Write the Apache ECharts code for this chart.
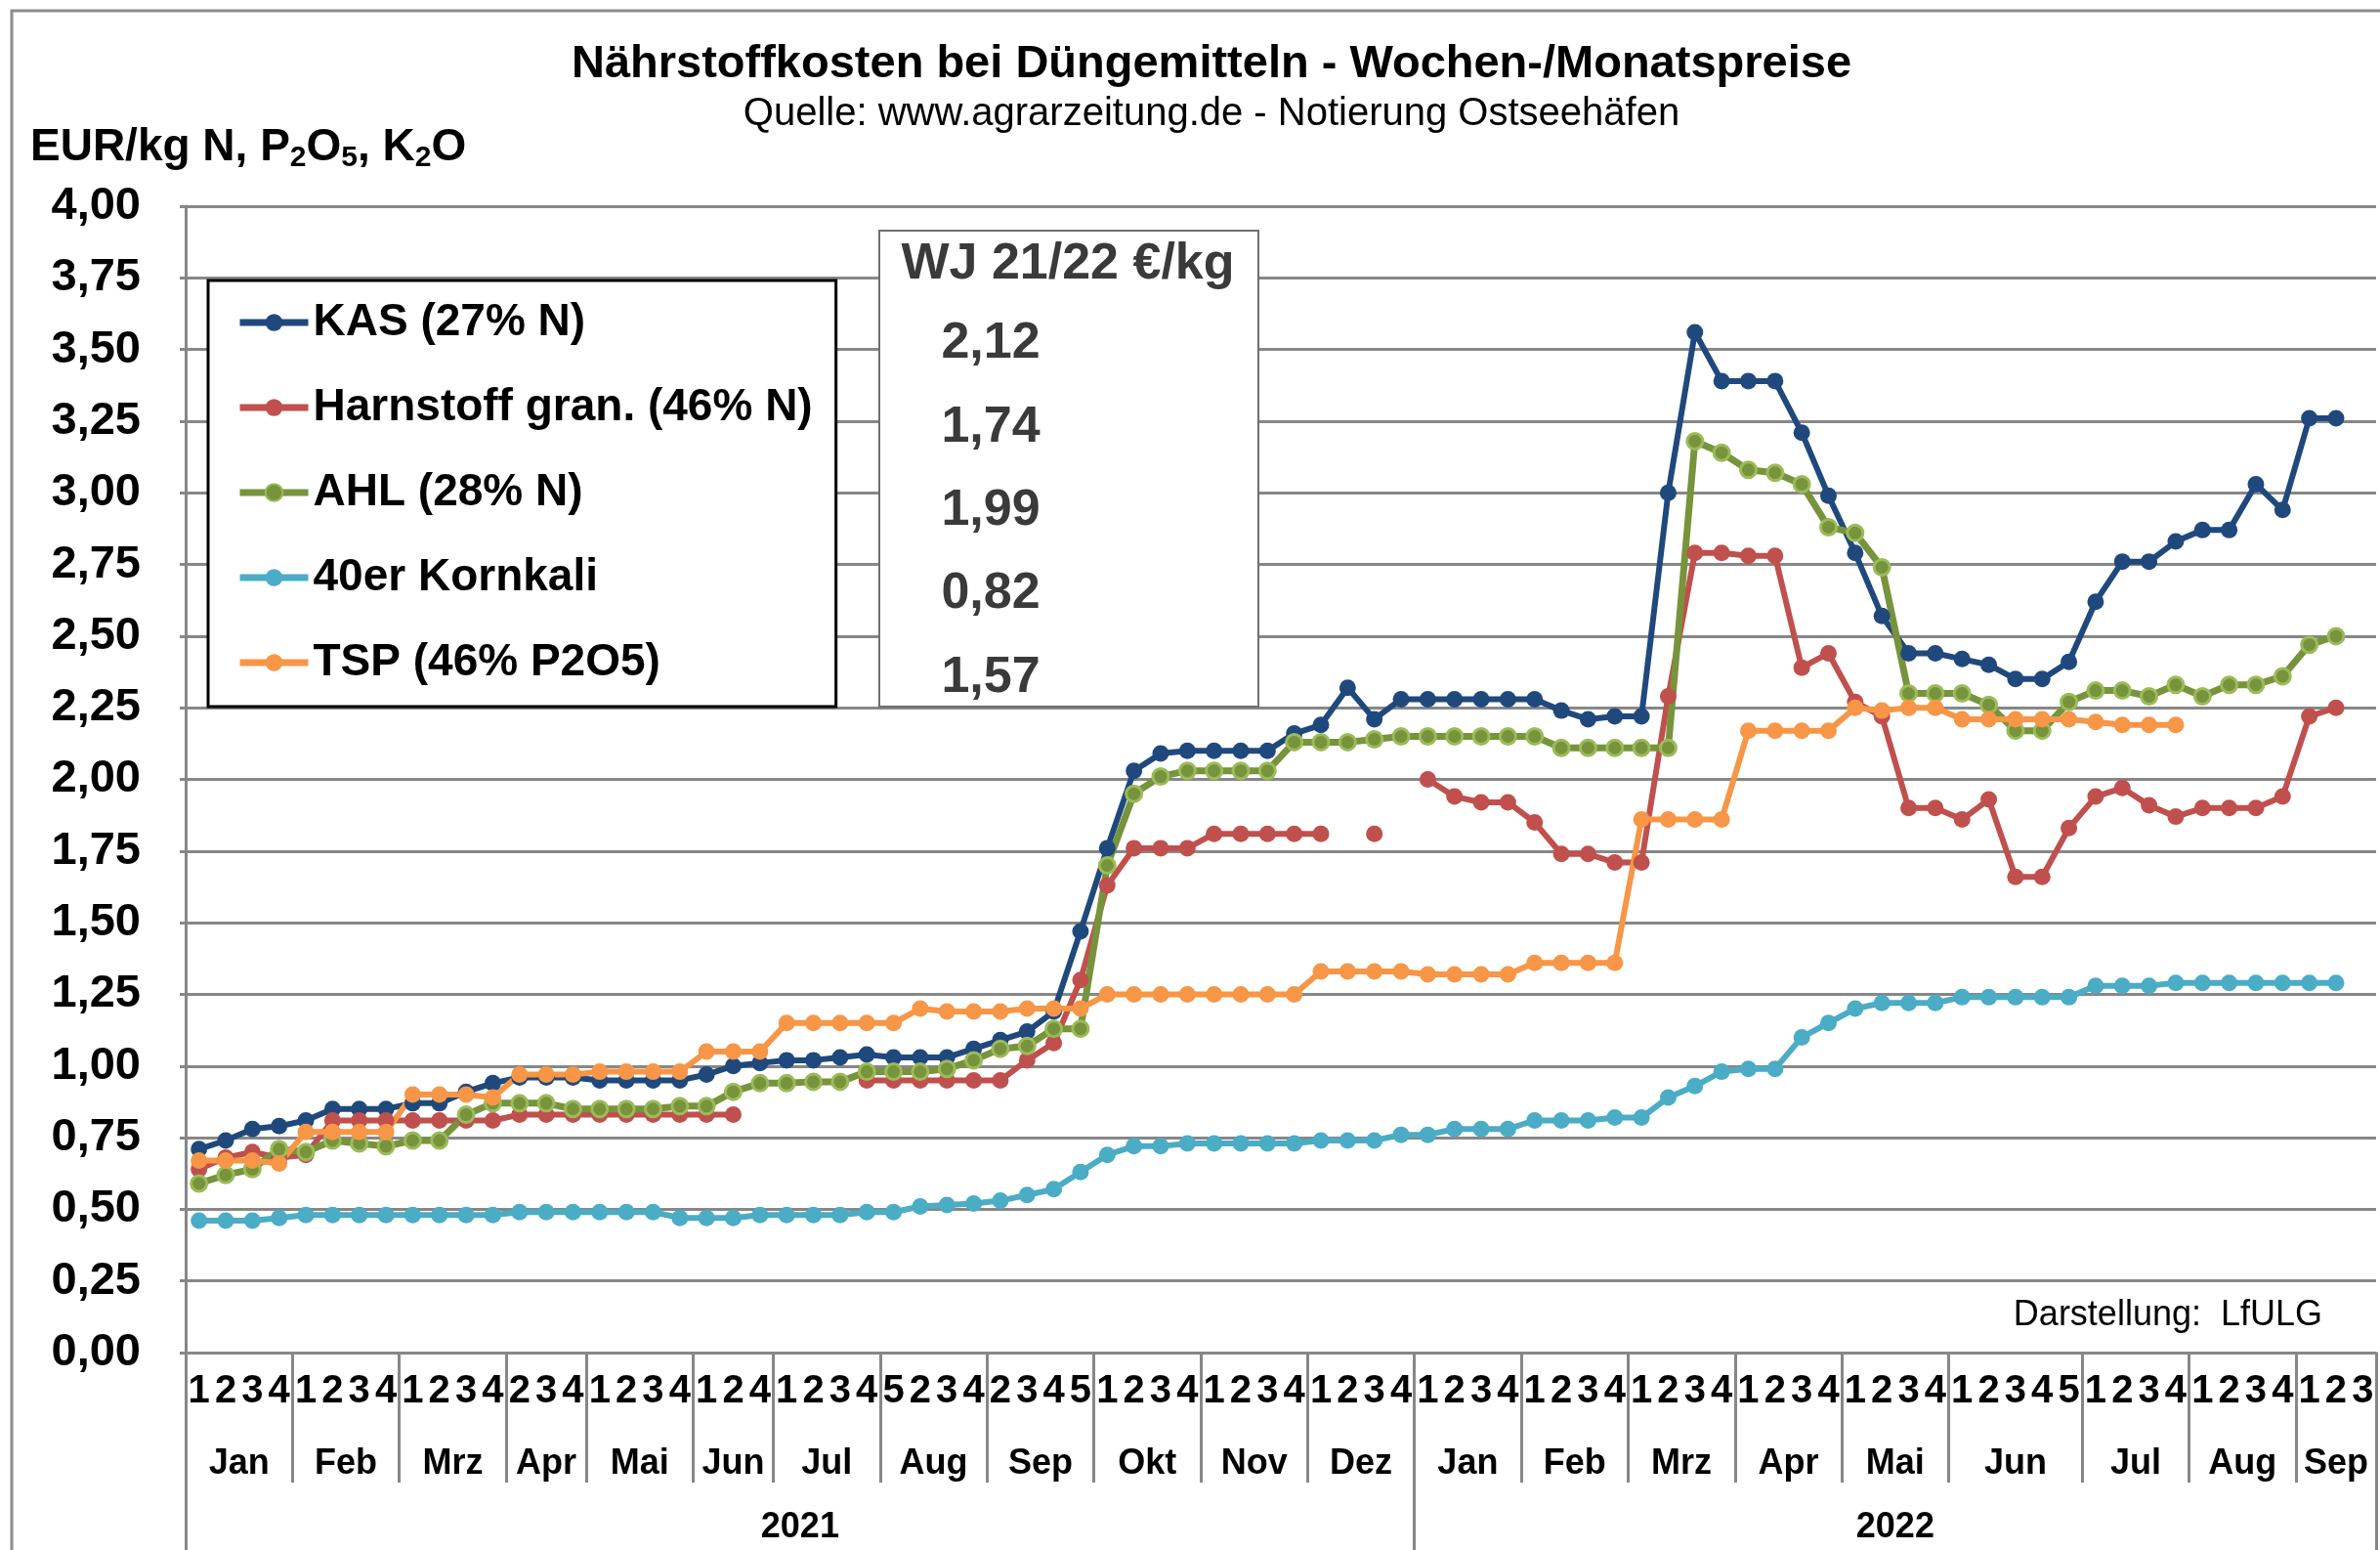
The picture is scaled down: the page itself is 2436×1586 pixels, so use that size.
<!DOCTYPE html>
<html>
<head>
<meta charset="utf-8">
<title>Nährstoffkosten bei Düngemitteln</title>
<script src="https://cdn.jsdelivr.net/npm/echarts@6/dist/echarts.min.js"></script>
<style>
html, body { margin: 0; padding: 0; background: #fff; }
#chart { width: 2436px; height: 1586px; }
</style>
</head>
<body>
<div id="chart"></div>
<script>
// Monate und Wochennummern (Achsbeschriftung)
const monthNames = ['Jan', 'Feb', 'Mrz', 'Apr', 'Mai', 'Jun', 'Jul', 'Aug', 'Sep', 'Okt', 'Nov', 'Dez',
    'Jan', 'Feb', 'Mrz', 'Apr', 'Mai', 'Jun', 'Jul', 'Aug', 'Sep'];
const monthWeeks = [
    [1, 2, 3, 4], [1, 2, 3, 4], [1, 2, 3, 4], [2, 3, 4], [1, 2, 3, 4], [1, 2, 4],
    [1, 2, 3, 4], [5, 2, 3, 4], [2, 3, 4, 5], [1, 2, 3, 4], [1, 2, 3, 4], [1, 2, 3, 4],
    [1, 2, 3, 4], [1, 2, 3, 4], [1, 2, 3, 4], [1, 2, 3, 4], [1, 2, 3, 4], [1, 2, 3, 4, 5],
    [1, 2, 3, 4], [1, 2, 3, 4], [1, 2, 3]
];
const yearNames = ['2021', '2022'];
const monthsPerYear = [12, 9];

// Preise EUR/kg Nährstoff
const kas = [0.71, 0.74, 0.78, 0.79, 0.81, 0.85, 0.85, 0.85, 0.87, 0.87, 0.91, 0.94,
    0.96, 0.96, 0.96, 0.95, 0.95, 0.95, 0.95, 0.97, 1.00, 1.01,
    1.02, 1.02, 1.03, 1.04, 1.03, 1.03, 1.03, 1.06, 1.09, 1.12, 1.19, 1.47,
    1.76, 2.03, 2.09, 2.10, 2.10, 2.10, 2.10, 2.16, 2.19, 2.32, 2.21, 2.28,
    2.28, 2.28, 2.28, 2.28, 2.28, 2.24, 2.21, 2.22, 2.22, 3.00, 3.56, 3.39,
    3.39, 3.39, 3.21, 2.99, 2.79, 2.57, 2.44, 2.44, 2.42, 2.40, 2.35, 2.35, 2.41,
    2.62, 2.76, 2.76, 2.83, 2.87, 2.87, 3.03, 2.94, 3.26, 3.26, null];
const harnstoff = [0.64, 0.68, 0.70, 0.68, 0.69, 0.81, 0.81, 0.81, 0.81, 0.81, 0.81, 0.81,
    0.83, 0.83, 0.83, 0.83, 0.83, 0.83, 0.83, 0.83, 0.83, null,
    null, null, null, 0.95, 0.95, 0.95, 0.95, 0.95, 0.95, 1.02, 1.08, 1.30,
    1.63, 1.76, 1.76, 1.76, 1.81, 1.81, 1.81, 1.81, 1.81, null, 1.81, null,
    2.00, 1.94, 1.92, 1.92, 1.85, 1.74, 1.74, 1.71, 1.71, 2.29, 2.79, 2.79,
    2.78, 2.78, 2.39, 2.44, 2.27, 2.22, 1.90, 1.90, 1.86, 1.93, 1.66, 1.66, 1.83,
    1.94, 1.97, 1.91, 1.87, 1.90, 1.90, 1.90, 1.94, 2.22, 2.25, null];
const ahl = [0.59, 0.62, 0.64, 0.71, 0.70, 0.74, 0.73, 0.72, 0.74, 0.74, 0.83, 0.87,
    0.87, 0.87, 0.85, 0.85, 0.85, 0.85, 0.86, 0.86, 0.91, 0.94,
    0.94, 0.945, 0.945, 0.98, 0.98, 0.98, 0.99, 1.02, 1.06, 1.07, 1.13, 1.13,
    1.70, 1.95, 2.01, 2.03, 2.03, 2.03, 2.03, 2.13, 2.13, 2.13, 2.14, 2.15,
    2.15, 2.15, 2.15, 2.15, 2.15, 2.11, 2.11, 2.11, 2.11, 2.11, 3.18, 3.14,
    3.08, 3.07, 3.03, 2.88, 2.86, 2.74, 2.30, 2.30, 2.30, 2.26, 2.17, 2.17, 2.27,
    2.31, 2.31, 2.29, 2.33, 2.29, 2.33, 2.33, 2.36, 2.47, 2.50, null];
const kornkali = [0.46, 0.46, 0.46, 0.47, 0.48, 0.48, 0.48, 0.48, 0.48, 0.48, 0.48, 0.48,
    0.49, 0.49, 0.49, 0.49, 0.49, 0.49, 0.47, 0.47, 0.47, 0.48,
    0.48, 0.48, 0.48, 0.49, 0.49, 0.51, 0.515, 0.52, 0.53, 0.55, 0.57, 0.63,
    0.69, 0.72, 0.72, 0.73, 0.73, 0.73, 0.73, 0.73, 0.74, 0.74, 0.74, 0.76,
    0.76, 0.78, 0.78, 0.78, 0.81, 0.81, 0.81, 0.82, 0.82, 0.89, 0.93, 0.98,
    0.99, 0.99, 1.10, 1.15, 1.20, 1.22, 1.22, 1.22, 1.24, 1.24, 1.24, 1.24, 1.24,
    1.28, 1.28, 1.28, 1.29, 1.29, 1.29, 1.29, 1.29, 1.29, 1.29, null];
const tsp = [0.67, 0.67, 0.67, 0.66, 0.77, 0.77, 0.77, 0.77, 0.90, 0.90, 0.90, 0.89,
    0.97, 0.97, 0.97, 0.98, 0.98, 0.98, 0.98, 1.05, 1.05, 1.05,
    1.15, 1.15, 1.15, 1.15, 1.15, 1.20, 1.19, 1.19, 1.19, 1.20, 1.20, 1.20,
    1.25, 1.25, 1.25, 1.25, 1.25, 1.25, 1.25, 1.25, 1.33, 1.33, 1.33, 1.33,
    1.32, 1.32, 1.32, 1.32, 1.36, 1.36, 1.36, 1.36, 1.86, 1.86, 1.86, 1.86,
    2.17, 2.17, 2.17, 2.17, 2.25, 2.24, 2.25, 2.25, 2.21, 2.21, 2.21, 2.21, 2.21,
    2.20, 2.19, 2.19, 2.19, null, null, null, null, null, null, null];

const seriesNames = ['KAS (27% N)', 'Harnstoff gran. (46% N)', 'AHL (28% N)', '40er Kornkali', 'TSP (46% P2O5)'];
const tableHeader = 'WJ 21/22 €/kg';
const tableValues = ['2,12', '1,74', '1,99', '0,82', '1,57'];

const FONT = "'Liberation Sans', Arial, sans-serif";
const GRAY = '#878787';

// Kategorien, Monats- und Jahresgrenzen ableiten
const weekLabels = [];
const categories = [];
const monthTicks = [];
const monthCenters = [];
const monthByCenter = {};
monthWeeks.forEach((weeks, m) => {
    const start = weekLabels.length;
    monthTicks.push(start);
    weeks.forEach(w => {
        categories.push('k' + weekLabels.length);
        weekLabels.push(String(w));
    });
    const c = start + weeks.length / 2;
    monthCenters.push(c);
    monthByCenter[c] = monthNames[m];
});
const total = weekLabels.length;
monthTicks.push(total);

const yearTicks = [0];
const yearCenters = [];
const yearByCenter = {};
let mIdx = 0;
monthsPerYear.forEach((n, y) => {
    const start = monthTicks[mIdx];
    mIdx += n;
    const end = monthTicks[mIdx];
    yearTicks.push(end);
    const c = (start + end) / 2;
    yearCenters.push(c);
    yearByCenter[c] = yearNames[y];
});

const colors = ['#1F497D', '#C0504D', '#77933C', '#4BACC6', '#F79646'];
const values = [kas, harnstoff, ahl, kornkali, tsp];

const series = values.map((d, i) => ({
    name: seriesNames[i],
    type: 'line',
    data: d,
    symbol: 'circle',
    symbolSize: i === 2 ? 16 : 17,
    showAllSymbol: true,
    connectNulls: false,
    lineStyle: { color: colors[i], width: i === 2 ? 7 : 6 },
    itemStyle: i === 2
        ? { color: '#77933C', borderColor: '#9BBB59', borderWidth: 3 }
        : { color: colors[i], borderWidth: 0 }
}));

const chart = echarts.init(document.getElementById('chart'), null, { renderer: 'canvas' });

const tableGraphics = [
    {
        type: 'rect', z: 10,
        shape: { x: 900, y: 236, width: 388, height: 487 },
        style: { fill: '#fff', stroke: '#6f6f6f', lineWidth: 2 }
    },
    {
        type: 'text', z: 11, x: 1093, y: 271,
        style: { text: tableHeader, fontSize: 52, fontWeight: 'bold', fontFamily: FONT, fill: '#3a3a3a',
            align: 'center', verticalAlign: 'middle', textAlign: 'center', textVerticalAlign: 'middle' }
    }
].concat(tableValues.map((v, i) => ({
    type: 'text', z: 11, x: 1014, y: 352 + i * 85.3,
    style: { text: v, fontSize: 52, fontWeight: 'bold', fontFamily: FONT, fill: '#3a3a3a',
        align: 'center', verticalAlign: 'middle', textAlign: 'center', textVerticalAlign: 'middle' }
})));

chart.setOption({
    animation: false,
    backgroundColor: '#fff',
    color: colors,
    grid: { left: 190, right: 4, top: 211, bottom: 202, containLabel: false },
    legend: {
        data: seriesNames,
        orient: 'vertical',
        left: 213,
        top: 287,
        padding: [20, 24, 22, 29],
        itemGap: 41,
        itemWidth: 70,
        itemHeight: 22,
        selectedMode: false,
        backgroundColor: '#fff',
        borderColor: '#000',
        borderWidth: 3,
        lineStyle: { width: 7 },
        textStyle: { fontSize: 46, fontWeight: 'bold', color: '#000', fontFamily: FONT }
    },
    xAxis: [
        {
            type: 'category',
            data: categories,
            boundaryGap: true,
            position: 'bottom',
            axisLine: { lineStyle: { color: GRAY, width: 3 } },
            axisTick: { show: false },
            axisLabel: {
                interval: 0, margin: 20,
                formatter: (v, idx) => weekLabels[idx],
                fontSize: 40, fontWeight: 'bold', color: '#000', fontFamily: FONT
            },
            splitLine: { show: false }
        },
        {
            type: 'value', min: 0, max: total, position: 'bottom',
            axisLine: { show: false },
            splitLine: { show: false },
            axisTick: { show: true, length: 133, customValues: monthTicks, lineStyle: { color: GRAY, width: 3 } },
            axisLabel: {
                customValues: monthCenters, margin: 96,
                formatter: v => monthByCenter[v] || '',
                fontSize: 36, fontWeight: 'bold', color: '#000', fontFamily: FONT
            }
        },
        {
            type: 'value', min: 0, max: total, position: 'bottom',
            axisLine: { show: false },
            splitLine: { show: false },
            axisTick: { show: true, length: 210, customValues: yearTicks, lineStyle: { color: GRAY, width: 3 } },
            axisLabel: {
                customValues: yearCenters, margin: 161,
                formatter: v => yearByCenter[v] || '',
                fontSize: 36, fontWeight: 'bold', color: '#000', fontFamily: FONT
            }
        }
    ],
    yAxis: {
        type: 'value',
        min: 0,
        max: 4,
        interval: 0.25,
        axisLine: { show: true, lineStyle: { color: GRAY, width: 3 } },
        axisTick: { show: true, length: 6, lineStyle: { color: GRAY, width: 3 } },
        splitLine: { lineStyle: { color: GRAY, width: 3 } },
        axisLabel: {
            margin: 46,
            formatter: v => v.toFixed(2).replace('.', ','),
            fontSize: 47, fontWeight: 'bold', color: '#000', fontFamily: FONT
        }
    },
    graphic: [
        {
            type: 'rect', z: 20, silent: true,
            shape: { x: 12, y: 11, width: 2450, height: 1600 },
            style: { fill: 'none', stroke: '#8c8c8c', lineWidth: 3 }
        },
        {
            type: 'text', x: 1240, y: 66,
            style: { text: 'Nährstoffkosten bei Düngemitteln - Wochen-/Monatspreise', fontSize: 47, fontWeight: 'bold',
                fontFamily: FONT, fill: '#000', align: 'center', verticalAlign: 'middle',
                textAlign: 'center', textVerticalAlign: 'middle' }
        },
        {
            type: 'text', x: 1240, y: 117,
            style: { text: 'Quelle: www.agrarzeitung.de - Notierung Ostseehäfen', fontSize: 40,
                fontFamily: FONT, fill: '#000', align: 'center', verticalAlign: 'middle',
                textAlign: 'center', textVerticalAlign: 'middle' }
        },
        {
            type: 'text', x: 31, y: 151,
            style: {
                text: '{a|EUR/kg N, P}{s|2}{a|O}{s|5}{a|, K}{s|2}{a|O}',
                verticalAlign: 'middle', textVerticalAlign: 'middle',
                rich: {
                    a: { fontSize: 46, fontWeight: 'bold', fontFamily: FONT, fill: '#000', lineHeight: 52 },
                    s: { fontSize: 30, fontWeight: 'bold', fontFamily: FONT, fill: '#000', lineHeight: 26, verticalAlign: 'bottom' }
                }
            }
        },
        {
            type: 'text', x: 2377, y: 1346,
            style: { text: 'Darstellung:  LfULG', fontSize: 36, fontFamily: FONT, fill: '#000',
                align: 'right', verticalAlign: 'middle', textAlign: 'right', textVerticalAlign: 'middle' }
        }
    ].concat(tableGraphics),
    series: series
});
</script>
</body>
</html>
